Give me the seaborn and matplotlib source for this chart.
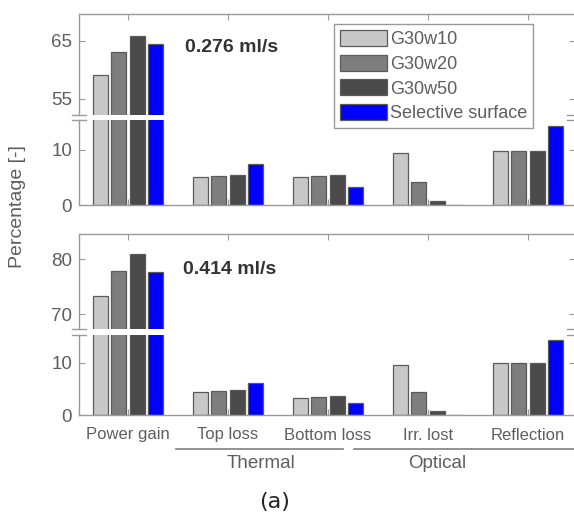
import matplotlib
matplotlib.use("Agg")
import matplotlib.pyplot as plt
from matplotlib.lines import Line2D
import seaborn as sns
import pandas as pd

# ---------------- data ----------------
categories = ["Power gain", "Top loss", "Bottom loss", "Irr. lost", "Reflection"]
series = ["G30w10", "G30w20", "G30w50", "Selective surface"]

# flow 0.276 ml/s
a_g30w10 = [59.1, 5.0, 5.0, 9.4, 9.8]
a_g30w20 = [63.1, 5.25, 5.25, 4.2, 9.8]
a_g30w50 = [65.9, 5.45, 5.5, 0.7, 9.8]
a_selective = [64.4, 7.45, 3.3, 0.0, 14.4]

# flow 0.414 ml/s
b_g30w10 = [73.3, 4.35, 3.2, 9.55, 10.0]
b_g30w20 = [77.9, 4.55, 3.45, 4.35, 10.0]
b_g30w50 = [80.9, 4.8, 3.65, 0.8, 10.0]
b_selective = [77.6, 6.05, 2.3, 0.0, 14.3]

group_labels = ["Thermal", "Optical"]
flow_labels = ["0.276 ml/s", "0.414 ml/s"]

colors = ["#c8c8c8", "#7e7e7e", "#4a4a4a", "#0000ff"]


def long_df(cols):
    rows = []
    for s, vals in zip(series, cols):
        for c, v in zip(categories, vals):
            rows.append({"category": c, "series": s, "value": v})
    return pd.DataFrame(rows)


df_a = long_df([a_g30w10, a_g30w20, a_g30w50, a_selective])
df_b = long_df([b_g30w10, b_g30w20, b_g30w50, b_selective])

# ---------------- figure ----------------
W, H = 574, 519
fig = plt.figure(figsize=(W / 100, H / 100), dpi=100)
fig.patch.set_facecolor("white")

SPINE = "#9a9a9a"
TXT = "#5e5e5e"
FONT = "Liberation Sans"


def px_axes(l, t, r, b):
    return fig.add_axes([l / W, 1 - b / H, (r - l) / W, (b - t) / H])


def fx(x):
    return x / W


def fy(y):
    return 1 - y / H


L, R = 79, 575
XLIM = (-0.49, 4.47)

panels = [
    (df_a, (14, 115, (52.24, 69.65), [55, 65]), (120, 205, (0, 15.45), [0, 10]), False),
    (df_b, (234, 329, (67.27, 84.6), [70, 80]), (335, 415, (0, 15.3), [0, 10]), True),
]

handles = labels = None
for df, up, low, show in panels:
    ax_u = px_axes(L, up[0], R, up[1])
    ax_l = px_axes(L, low[0], R, low[1])
    for ax, spec, is_upper in ((ax_u, up, True), (ax_l, low, False)):
        want_leg = handles is None and is_upper
        sns.barplot(data=df, x="category", y="value", hue="series",
                    order=categories, hue_order=series, palette=colors,
                    width=0.73, gap=0.18, edgecolor="#5a5a5a", linewidth=0.9,
                    saturation=1, ax=ax, legend=want_leg, errorbar=None)
        if want_leg:
            handles, labels = ax.get_legend_handles_labels()
            ax.get_legend().remove()
        ax.set_xlim(*XLIM)
        ax.set_ylim(*spec[2])
        ax.set_yticks(spec[3])
        ax.set_xlabel("")
        ax.set_ylabel("")
        for s in ax.spines.values():
            s.set_color(SPINE)
            s.set_linewidth(1.0)
        ax.spines["bottom" if is_upper else "top"].set_visible(False)
        ax.tick_params(axis="y", left=True, right=True, direction="in",
                       length=4, color=SPINE, labelsize=13.5,
                       labelcolor=TXT, pad=5)
        ax.tick_params(axis="x", direction="in", length=4, color=SPINE,
                       top=is_upper, bottom=not is_upper,
                       labelbottom=(show and not is_upper), labeltop=False,
                       labelsize=12, labelcolor=TXT, pad=9)
        for lab in ax.get_yticklabels() + ax.get_xticklabels():
            lab.set_fontfamily(FONT)
    # break marks on both spines
    yb1, yb2 = up[1], low[0]
    for xs in ((72, 86), (567, 581)):
        for yb in (yb1, yb2):
            fig.add_artist(Line2D([fx(xs[0]), fx(xs[1])], [fy(yb), fy(yb)],
                                  color=SPINE, lw=1.0))

# flow annotations
fig.text(fx(185), fy(47), flow_labels[0], fontsize=14, fontweight="bold",
         color="#333333", family=FONT, ha="left", va="center")
fig.text(fx(183), fy(270), flow_labels[1], fontsize=14, fontweight="bold",
         color="#333333", family=FONT, ha="left", va="center")

# y label
fig.text(fx(18), fy(207), "Percentage [-]", rotation=90, fontsize=14,
         color=TXT, family=FONT, ha="center", va="center")

# group underlines and labels
fig.add_artist(Line2D([fx(176), fx(343)], [fy(449), fy(449)], color="#808080", lw=1.2))
fig.add_artist(Line2D([fx(354), fx(574)], [fy(449), fy(449)], color="#808080", lw=1.2))
fig.text(fx(261), fy(463), group_labels[0], fontsize=13.5, color=TXT,
         family=FONT, ha="center", va="center")
fig.text(fx(437), fy(463), group_labels[1], fontsize=13.5, color=TXT,
         family=FONT, ha="center", va="center")

# panel label
fig.text(fx(275), fy(502), "(a)", fontsize=16, color="#222222",
         family="DejaVu Sans", ha="center", va="center")

# legend
leg = fig.legend(handles, labels, loc="upper left",
                 bbox_to_anchor=(fx(334), fy(24)), frameon=True,
                 fancybox=False, edgecolor=SPINE, framealpha=1,
                 prop={"family": FONT, "size": 13},
                 handlelength=2.6, handleheight=1.0, labelspacing=0.36,
                 handletextpad=0.17, borderpad=0.32, borderaxespad=0)
leg.get_frame().set_linewidth(1.0)
for t in leg.get_texts():
    t.set_color(TXT)

fig.savefig("out.png", dpi=100)
